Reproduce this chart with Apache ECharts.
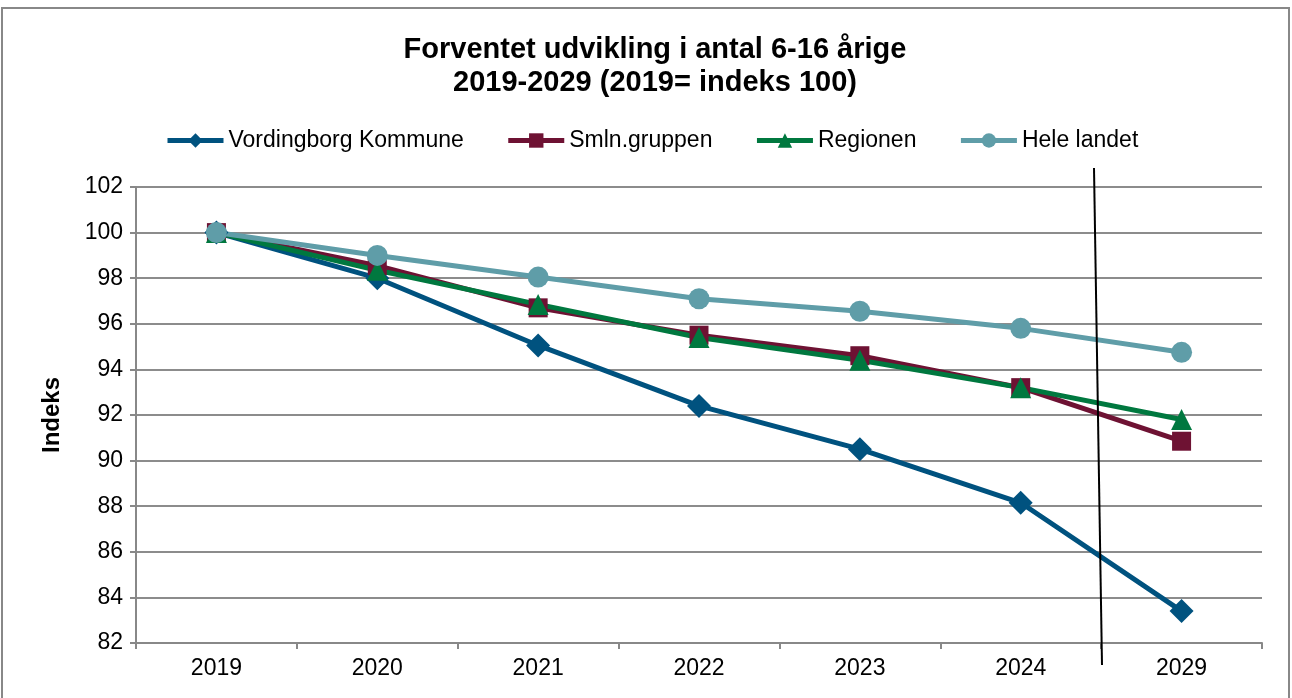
<!DOCTYPE html>
<html>
<head>
<meta charset="utf-8">
<script src="https://cdn.jsdelivr.net/npm/echarts@6/dist/echarts.min.js"></script>
<style>
  html, body { margin: 0; padding: 0; background: #fff; }
  #chart { width: 1292px; height: 698px; }
</style>
</head>
<body>
<div id="chart"></div>
<script>
// Data
const aar = ['2019', '2020', '2021', '2022', '2023', '2024', '2029'];
const vordingborg = [100, 98.0, 95.05, 92.4, 90.5, 88.15, 83.4];
const smlnGruppen = [100, 98.55, 96.7, 95.5, 94.6, 93.2, 90.85];
const regionen = [100, 98.35, 96.85, 95.4, 94.4, 93.2, 91.8];
const heleLandet = [100, 99.0, 98.05, 97.1, 96.55, 95.8, 94.75];
const yTicks = { min: 82, max: 102, interval: 2 };

const chart = echarts.init(document.getElementById('chart'));
const font = 'Liberation Sans, Arial, sans-serif';

function serie(navn, data, farve, symbol, size) {
    return {
        name: navn,
        type: 'line',
        data: data,
        symbol: symbol,
        symbolSize: size,
        lineStyle: { width: 5, color: farve },
        itemStyle: { color: farve },
        emphasis: { disabled: true }
    };
}

chart.setOption({
    animation: false,
    textStyle: { fontFamily: font },
    title: {
        text: 'Forventet udvikling i antal 6-16 årige\n2019-2029 (2019= indeks 100)',
        left: 650,
        textAlign: 'center',
        top: 28,
        textStyle: { fontSize: 29, fontWeight: 'bold', color: '#000', lineHeight: 33 }
    },
    legend: {
        top: 124,
        left: 160,
        itemWidth: 56,
        itemHeight: 18,
        itemGap: 42,
        lineStyle: { width: 5 },
        textStyle: { fontSize: 23, color: '#000' },
        data: ['Vordingborg Kommune', 'Smln.gruppen', 'Regionen', 'Hele landet']
    },
    grid: { left: 136, right: 30, top: 187, bottom: 55, containLabel: false },
    xAxis: {
        type: 'category',
        data: aar,
        boundaryGap: true,
        axisLine: { lineStyle: { color: '#888', width: 2 } },
        axisTick: { show: true, length: 6, lineStyle: { color: '#888', width: 2 } },
        axisLabel: { fontSize: 23, color: '#000', margin: 14 }
    },
    yAxis: {
        type: 'value',
        min: yTicks.min,
        max: yTicks.max,
        interval: yTicks.interval,
        name: 'Indeks',
        nameLocation: 'middle',
        nameGap: 72,
        nameTextStyle: { fontSize: 24, fontWeight: 'bold', color: '#000' },
        axisLine: { show: true, lineStyle: { color: '#888', width: 2 } },
        axisTick: { show: true, length: 6, lineStyle: { color: '#888', width: 2 } },
        axisLabel: { fontSize: 23, color: '#000', margin: 13 },
        splitLine: { lineStyle: { color: '#8c8c8c', width: 2 } }
    },
    series: [
        serie('Vordingborg Kommune', vordingborg, '#00527f', 'diamond', 24),
        serie('Smln.gruppen', smlnGruppen, '#6e1233', 'rect', 19),
        serie('Regionen', regionen, '#00783f', 'triangle', 21),
        serie('Hele landet', heleLandet, '#5f9da8', 'circle', 21)
    ],
    graphic: [
        {
            type: 'rect',
            shape: { x: 2, y: 8, width: 1287, height: 720 },
            style: { fill: 'none', stroke: '#888', lineWidth: 2 },
            silent: true
        },
        {
            type: 'line',
            shape: { x1: 1094, y1: 168, x2: 1102, y2: 665 },
            style: { stroke: '#000', lineWidth: 2 },
            z: 100,
            silent: true
        }
    ]
});

window.addEventListener('resize', () => chart.resize());
</script>
</body>
</html>
